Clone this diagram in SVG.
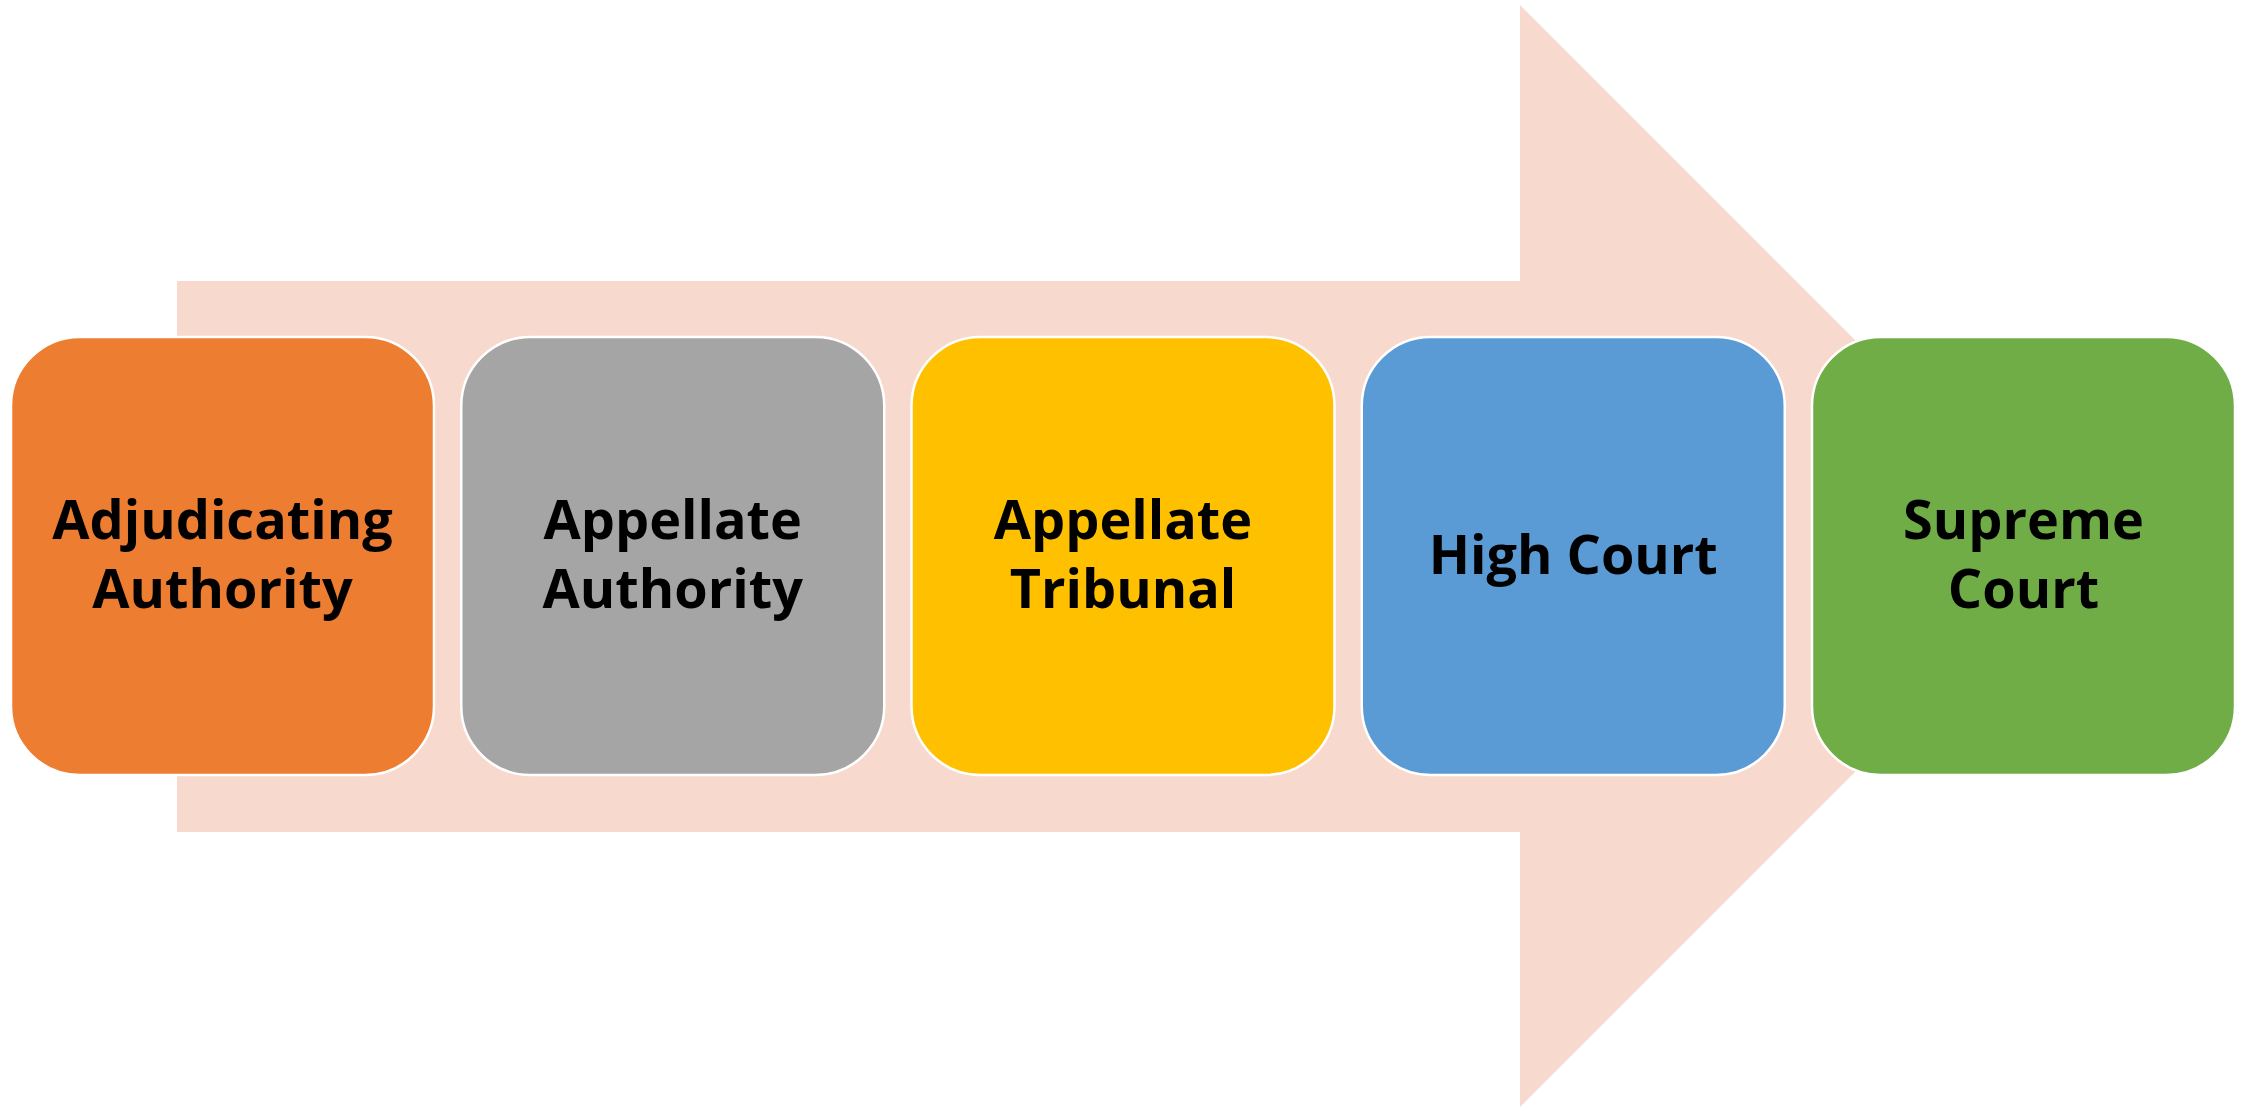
<svg xmlns="http://www.w3.org/2000/svg" width="2241" height="1107" viewBox="0 0 2241 1107">
<style>
  .box { stroke: #FFFFFF; stroke-width: 2.5; }
  .lbl { font-family: "Open Sans", "Noto Sans", "Liberation Sans", sans-serif; font-weight: bold; font-size: 54px; fill: #000000; text-anchor: middle; }
</style>
<rect width="2241" height="1107" fill="#FFFFFF"/>
<g id="arrow">
  <polygon points="177,281 1520,281 1520,5 2071,556 1520,1107 1520,832 177,832" fill="#F8D9CE"/>
</g>
<g id="connectors"></g>
<g id="node-adjudicating-authority">
  <rect class="box" x="11" y="337" width="423" height="438" rx="69" ry="69" fill="#ED7D31"/>
  <text class="lbl" x="222.5" y="539">Adjudicating</text>
  <text class="lbl" x="222.5" y="608">Authority</text>
</g>
<g id="node-appellate-authority">
  <rect class="box" x="461.25" y="337" width="423" height="438" rx="69" ry="69" fill="#A5A5A5"/>
  <text class="lbl" x="672.75" y="539">Appellate</text>
  <text class="lbl" x="672.75" y="608">Authority</text>
</g>
<g id="node-appellate-tribunal">
  <rect class="box" x="911.5" y="337" width="423" height="438" rx="69" ry="69" fill="#FFC000"/>
  <text class="lbl" x="1123" y="539">Appellate</text>
  <text class="lbl" x="1123" y="608">Tribunal</text>
</g>
<g id="node-high-court">
  <rect class="box" x="1361.75" y="337" width="423" height="438" rx="69" ry="69" fill="#5B9BD5"/>
  <text class="lbl" x="1573.25" y="574">High Court</text>
</g>
<g id="node-supreme-court">
  <rect class="box" x="1812" y="337" width="423" height="438" rx="69" ry="69" fill="#70AD47"/>
  <text class="lbl" x="2023.5" y="539">Supreme</text>
  <text class="lbl" x="2023.5" y="608">Court</text>
</g>
</svg>
